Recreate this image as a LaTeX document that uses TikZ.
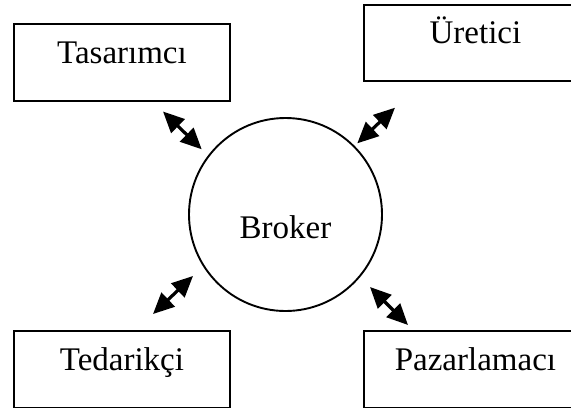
\documentclass[tikz,border=0pt]{standalone}
\usepackage{fontspec}
\setmainfont{Liberation Serif}
\usetikzlibrary{arrows.meta}
\begin{document}
\begin{tikzpicture}[x=1pt,y=-1pt,
  labelfont/.style={font=\fontsize{33}{39}\selectfont},
  box/.style={draw, line width=1.9pt, rectangle, inner sep=0pt, anchor=north west, labelfont},
  hub/.style={draw, line width=1.9pt, circle, inner sep=0pt, minimum size=193pt,
    text height=47pt, text depth=0pt, labelfont},
  link/.style={line width=3.2pt,
    {Triangle[length=21pt,width=19pt]}-{Triangle[length=21pt,width=19pt]}}
]
\useasboundingbox (0,0) rectangle (571,408);
\clip (0,0) rectangle (571,408);

% the four partners
\node[box, minimum width=216pt, text height=40pt, text depth=37pt] (tas) at (13,23) {Tasarımcı};
\node[box, minimum width=223pt, text height=39pt, text depth=37pt] (ure) at (363,4) {Üretici};
\node[box, minimum width=216pt, text height=40pt, text depth=36.5pt] (ted) at (13,330) {Tedarikçi};
\node[box, minimum width=223pt, text height=40pt, text depth=36.5pt] (paz) at (363,330) {Pazarlamacı};

% the broker in the middle
\node[hub] (brk) at (285.5,214.5) {Broker};

% ends of the two-way arrows
\coordinate (tasA) at (163,111.5);
\coordinate (tasB) at (201.7,149.3);
\coordinate (ureA) at (395,107.7);
\coordinate (ureB) at (357.3,143.3);
\coordinate (tedA) at (153,314);
\coordinate (tedB) at (193,276);
\coordinate (pazA) at (370,287);
\coordinate (pazB) at (408,325);

\draw[link] (tasA) -- (tasB);
\draw[link] (ureA) -- (ureB);
\draw[link] (tedA) -- (tedB);
\draw[link] (pazA) -- (pazB);
\end{tikzpicture}
\end{document}
